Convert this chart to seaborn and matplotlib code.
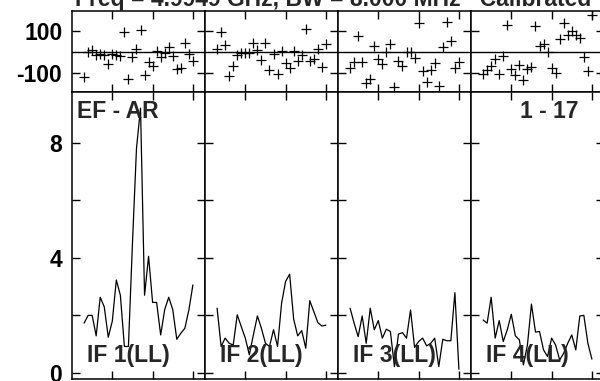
import matplotlib
matplotlib.use("Agg")
import matplotlib.pyplot as plt
import numpy as np
import pandas as pd
import seaborn as sns

# ---------------- data ----------------
channels = list(range(3, 31))

amp_if1 = [1.73, 2.0, 2.0, 1.29, 2.63, 2.3, 1.24, 1.8, 3.23, 2.7, 0.92, 0.92, 4.5, 7.8,
           9.2, 2.7, 4.05, 2.45, 2.45, 1.32, 2.2, 2.63, 2.2, 1.17, 1.38, 1.55, 2.19, 3.06]
amp_if2 = [2.25, 0.92, 1.21, 1.03, 0.97, 2.02, 1.61, 1.21, 0.63, 1.32, 1.98, 1.55, 1.03, 0.92,
           1.5, 0.92, 2.42, 3.18, 3.43, 1.87, 1.29, 1.47, 0.86, 2.51, 2.13, 1.75, 1.63, 1.66]
amp_if3 = [2.25, 1.73, 1.26, 1.98, 1.03, 2.25, 1.5, 1.82, 1.21, 1.52, 1.44, 0.22, 1.35, 1.40,
           1.21, 2.19, 0.89, 1.09, 1.21, 0.94, 1.03, 1.21, 0.22, 1.17, 1.12, 1.12, 2.79, 0.13]
amp_if4 = [1.84, 1.73, 2.63, 1.21, 1.82, 1.09, 1.5, 2.04, 1.29, 1.15, 0.28, 0.97, 2.39, 1.42,
           1.44, 0.8, 0.57, 1.21, 0.97, 0.45, 0.69, 1.03, 1.32, 0.8, 1.98, 2.0, 1.03, 0.48]

phase_if1 = [-118, 0, 11, -13, -8, -13, -55, -8, -13, -17, 98, -128, -20, 14,
             106, -107, -44, -63, 6, -20, -5, 24, -17, -79, -76, 43, -8, -39]
phase_if2 = [16, 98, 35, -115, -63, -13, -2, -2, -2, 43, 11, -36, 46, -83,
             -8, -102, 8, -49, -76, 6, -39, -13, 113, -39, -33, 16, -68, 39]
phase_if3 = [-76, -44, 77, -44, -146, -126, 30, -33, -55, 0, 39, -165, -39, -65,
             3, 3, -28, 140, -91, -139, -83, -52, -162, 24, 145, 55, -76, -44]
phase_if4 = [-102, -83, -65, -33, -102, -17, 132, -80, -107, -60, -131, -79, -72, 126,
             31, 38, 0, -76, -99, 63, 140, 85, 101, 82, 66, -24, -91, 176]

if_labels = ["IF 1(LL)", "IF 2(LL)", "IF 3(LL)", "IF 4(LL)"]
amp_ticks = [0, 2, 4, 6, 8]
amp_ticklabels = ["0", "", "4", "", "8"]
phase_ticks = [-100, 100]
phase_ticklabels = ["-100", "100"]
x_ticks = [10, 20, 30]
title_text = "Freq = 4.9949 GHz, BW = 8.000 MHz   Calibrated"
baseline_label = "EF - AR"
scan_label = "1 - 17"

amps = [amp_if1, amp_if2, amp_if3, amp_if4]
phases = [phase_if1, phase_if2, phase_if3, phase_if4]

# ---------------- style ----------------
sns.set_theme(style="white")
plt.rcParams["font.family"] = ["Liberation Sans", "DejaVu Sans"]
plt.rcParams["font.weight"] = "bold"
plt.rcParams["axes.edgecolor"] = "black"
plt.rcParams["axes.linewidth"] = 1.1

fig = plt.figure(figsize=(6.0, 3.81), dpi=100)

W, H = 600.0, 381.0
left0 = 72.0
pw = 133.0
top_top, mid, bot = 11.0, 92.0, 379.0

for i in range(4):
    lx = (left0 + i * pw) / W
    axp = fig.add_axes([lx, 1 - mid / H, pw / W, (mid - top_top) / H])
    axa = fig.add_axes([lx, 1 - bot / H, pw / W, (bot - mid) / H])

    dfp = pd.DataFrame({"ch": channels, "phase": phases[i]})
    dfa = pd.DataFrame({"ch": channels, "amp": amps[i]})

    axp.axhline(0, color="black", lw=1.0, zorder=1)
    sns.scatterplot(data=dfp, x="ch", y="phase", ax=axp, marker="+", s=60,
                    color="black", linewidth=0.9, zorder=3, legend=False)
    sns.lineplot(data=dfa, x="ch", y="amp", ax=axa, color="black", lw=0.9,
                 legend=False)

    for ax in (axp, axa):
        ax.set_xlim(0, 33)
        ax.set_xticks(x_ticks)
        ax.set_xticklabels([])
        ax.set_xlabel("")
        ax.set_ylabel("")
        ax.tick_params(direction="in", length=5.5, width=1.0, top=True, right=True,
                       bottom=True, left=True, labelsize=16.5, pad=7, colors="black")
        for s in ax.spines.values():
            s.set_color("black")
            s.set_linewidth(1.1)

    axp.set_ylim(-189, 197)
    axp.set_yticks(phase_ticks)
    axa.set_ylim(-0.21, 9.76)
    axa.set_yticks(amp_ticks)
    if i == 0:
        axp.set_yticklabels(phase_ticklabels, fontweight="bold")
        axa.set_yticklabels(amp_ticklabels, fontweight="bold")
    else:
        axp.set_yticklabels([])
        axa.set_yticklabels([])

    axa.text(15 / pw, 17 / (bot - mid), if_labels[i], transform=axa.transAxes,
             fontsize=16.5, fontweight="bold", ha="left", va="baseline", zorder=5)
    if i == 0:
        axa.text(5 / pw, 1 - 26 / (bot - mid), baseline_label, transform=axa.transAxes,
                 fontsize=16.5, fontweight="bold", ha="left", va="baseline")
    if i == 3:
        axa.text(107 / pw, 1 - 26 / (bot - mid), scan_label, transform=axa.transAxes,
                 fontsize=16.5, fontweight="bold", ha="right", va="baseline")

fig.text(75 / W, 1 - 6 / H, title_text, fontsize=16.5, fontweight="bold",
         ha="left", va="baseline")

fig.savefig("out.png", dpi=100)
